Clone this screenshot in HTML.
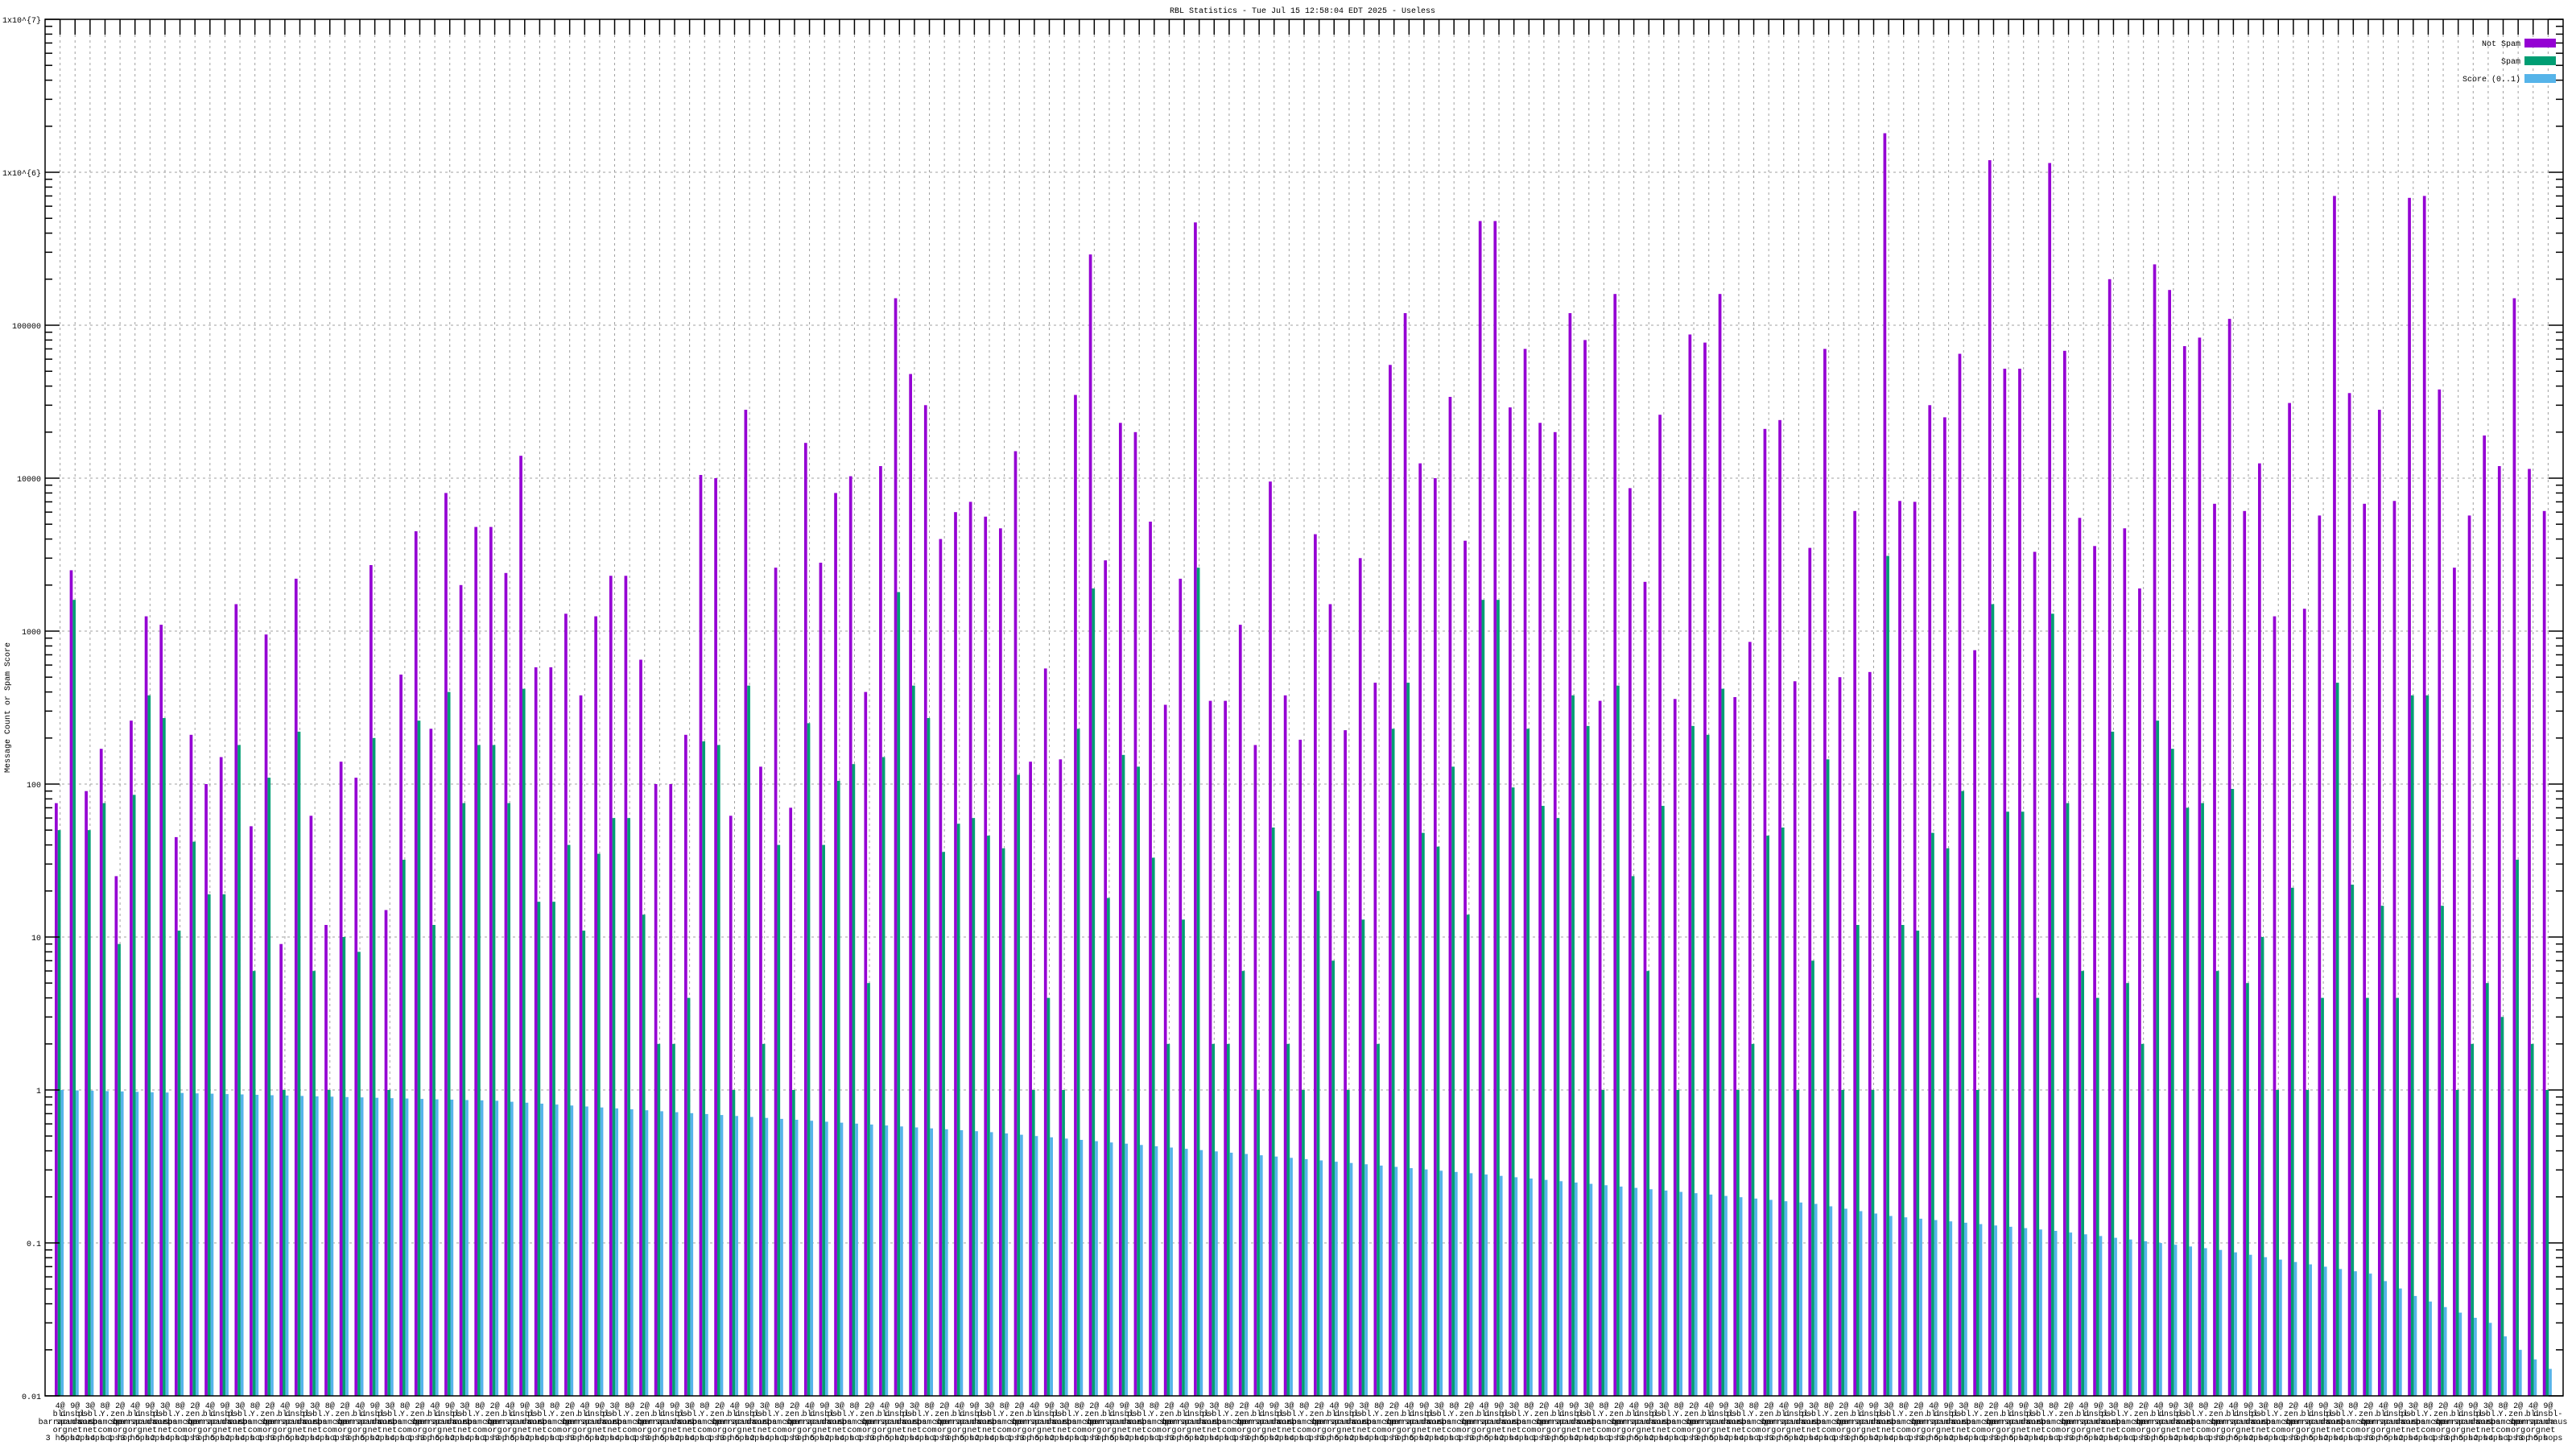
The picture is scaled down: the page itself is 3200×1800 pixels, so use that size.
<!DOCTYPE html>
<html><head><meta charset="utf-8"><style>
html,body{margin:0;padding:0;background:#fff;}
svg{display:block;}
text{font-family:"Liberation Mono","DejaVu Sans Mono",monospace;fill:#000;}
</style></head><body>
<svg id="s" xmlns="http://www.w3.org/2000/svg" width="3200" height="1800" viewBox="0 0 3200 1800"></svg>
<script>
const P=[75,2500,90,170,25,260,1250,1100,45,210,100,150,1500,53,950,9,2200,62,12,140,110,2700,15,520,4500,230,8000,2000,4800,4800,2400,14000,580,580,1300,380,1250,2300,2300,650,100,100,210,10500,10000,62,28000,130,2600,70,17000,2800,8000,10300,400,12000,150000,48000,30000,4000,6000,7000,5600,4700,15000,140,570,145,35000,290000,2900,23000,20000,5200,330,2200,470000,350,350,1100,180,9500,380,195,4300,1500,225,3000,460,55000,120000,12500,10000,34000,3900,480000,480000,29000,70000,23000,20000,120000,80000,350,160000,8600,2100,26000,360,87000,77000,160000,370,850,21000,24000,470,3500,70000,500,6100,540,1800000,7100,7000,30000,25000,65000,750,1200000,52000,52000,3300,1150000,68000,5500,3600,200000,4700,1900,250000,170000,73000,83000,6800,110000,6100,12500,1250,31000,1400,5700,700000,36000,6800,28000,7100,680000,700000,38000,2600,5700,19000,12000,150000,11500,6100,11500];
const G=[50,1600,50,75,9,85,380,270,11,42,19,19,180,6,110,1,220,6,1,10,8,200,1,32,260,12,400,75,180,180,75,420,17,17,40,11,35,60,60,14,2,2,4,190,180,1,440,2,40,1,250,40,105,135,5,150,1800,440,270,36,55,60,46,38,115,1,4,1,230,1900,18,155,130,33,2,13,2600,2,2,6,1,52,2,1,20,7,1,13,2,230,460,48,39,130,14,1600,1600,95,230,72,60,380,240,1,440,25,6,72,1,240,210,420,1,2,46,52,1,7,145,1,12,1,3100,12,11,48,38,90,1,1500,66,66,4,1300,75,6,4,220,5,2,260,170,70,75,6,93,5,10,1,21,1,4,460,22,4,16,4,380,380,16,1,2,5,3,32,2,1,1];
const N=167,L=56,R=3184,T=24,B=1734,s=(R-L)/(N+1),dec=190;
const y=v=>T+(7-Math.log10(v))*dec;
const bk=[[1,1.0],[30,0.85],[63,0.53],[96,0.28],[118,0.18],[123,0.15],[134,0.12],[145,0.09],[150,0.075],[155,0.063],[158,0.045],[161,0.035],[163,0.03],[165,0.02],[167,0.015]];
function sc(k){for(let i=0;i<bk.length-1;i++){const a=bk[i],b=bk[i+1];if(k<=b[0]){const t=(k-a[0])/(b[0]-a[0]);return Math.pow(10,Math.log10(a[1])+t*(Math.log10(b[1])-Math.log10(a[1])));}}return 0.015;}
let h='';
// grid
for(let d=0;d<=9;d++){const yy=T+d*dec;if(d>0&&d<9)h+=`<line x1="${L}" y1="${yy}" x2="${R}" y2="${yy}" stroke="#a0a0a0" stroke-dasharray="3,4" stroke-width="1"/>`;}
for(let k=1;k<=N;k++){const x=L+k*s;h+=`<line x1="${x}" y1="${T+19}" x2="${x}" y2="${B}" stroke="#a0a0a0" stroke-dasharray="3,4" stroke-width="1"/>`;}
// bars
const bw=3.7;
const vals=["2@","4@","9@","3@","8@"],w2=["zen.","bl.","dnsbl-","psbl.","Y."],w3=["spam","spamhaus","spamcop","barracuda","sorbs"],w4=["org","net","org","com","net"],w5=["1 hop","2 hops","3 hops","4 hops","5 hops"];
for(let k=1;k<=N;k++){const c=L+k*s,x0=c-6.6;
 const bars=[[P[k-1]||1,'#9400d3'],[G[k-1]||1,'#009e73'],[sc(k),'#56b4e9']];
 bars.forEach((b,i)=>{const yt=Math.max(T,y(b[0]));h+=`<rect x="${(x0+i*bw).toFixed(2)}" y="${yt.toFixed(1)}" width="${bw}" height="${(B-yt).toFixed(1)}" fill="${b[1]}"/>`;});
 const tx=c.toFixed(1);
 h+=`<text x="${tx}" y="${B+15}" font-size="10" text-anchor="middle">${vals[k%5]}</text>`;
 h+=`<text x="${tx}" y="${B+25}" font-size="10" text-anchor="middle">${w2[k%5]}</text>`;
 h+=`<text x="${tx}" y="${B+35}" font-size="10" text-anchor="middle">${w3[(k*3)%5]}</text>`;
 h+=`<text x="${tx}" y="${B+45}" font-size="10" text-anchor="middle">${w4[(k*2)%5]}</text>`;
 h+=`<text x="${tx}" y="${B+55}" font-size="10" text-anchor="middle">${w5[(k*7)%5]}</text>`;
}
// x ticks
for(let k=1;k<=N;k++){const x=L+k*s;h+=`<line x1="${x}" y1="${T}" x2="${x}" y2="${T+19}" stroke="#000" stroke-width="1.5"/>`;}
// y ticks
const lab=["1x10^{7}","1x10^{6}","100000","10000","1000","100","10","1","0.1","0.01"];
for(let d=0;d<=9;d++){const yy=T+d*dec;
 h+=`<line x1="${L}" y1="${yy}" x2="${L+18}" y2="${yy}" stroke="#000" stroke-width="1.5"/><line x1="${R}" y1="${yy}" x2="${R-18}" y2="${yy}" stroke="#000" stroke-width="1.5"/>`;
 h+=`<text x="${L-5}" y="${yy+4}" font-size="10" text-anchor="end">${lab[d]}</text>`;
 if(d<9)for(let m=2;m<=9;m++){const ym=yy+dec-Math.log10(m)*dec;h+=`<line x1="${L}" y1="${ym}" x2="${L+9}" y2="${ym}" stroke="#000" stroke-width="1.5"/><line x1="${R}" y1="${ym}" x2="${R-9}" y2="${ym}" stroke="#000" stroke-width="1.5"/>`;}
}
h+=`<rect x="${L}" y="${T}" width="${R-L}" height="${B-T}" fill="none" stroke="#000" stroke-width="1.5"/>`;
h+=`<text x="1618" y="16" font-size="10" text-anchor="middle">RBL Statistics - Tue Jul 15 12:58:04 EDT 2025 - Useless</text>`;
h+=`<text transform="translate(12,879) rotate(-90)" font-size="10" text-anchor="middle">Message Count or Spam Score</text>`;
const lg=[["Not Spam","#9400d3",53],["Spam","#009e73",75],["Score (0..1)","#56b4e9",97]];
lg.forEach(l=>{h+=`<text x="3131" y="${l[2]+4}" font-size="10" text-anchor="end">${l[0]}</text><rect x="3136" y="${l[2]-5}" width="39" height="11" fill="${l[1]}"/>`;});
document.getElementById('s').innerHTML=h;
</script>
</body></html>
